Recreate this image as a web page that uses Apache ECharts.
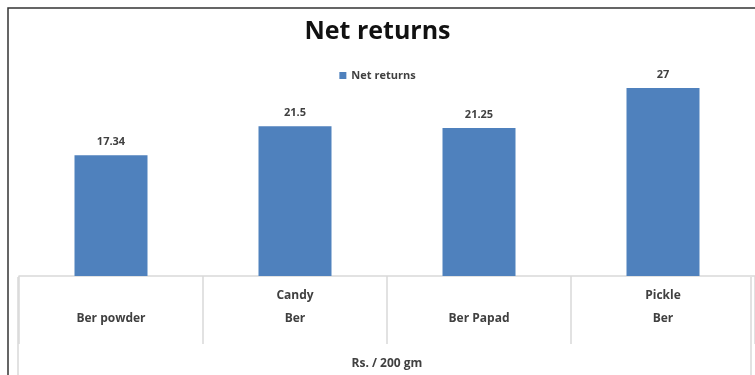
<!DOCTYPE html>
<html>
<head>
<meta charset="utf-8">
<script src="https://cdn.jsdelivr.net/npm/echarts@6/dist/echarts.min.js"></script>
<style>
  html, body { margin: 0; padding: 0; background: #fff; }
  #chart { width: 755px; height: 375px; }
</style>
</head>
<body>
<div id="chart"></div>
<script>
// two-line category labels (upper line, lower line)
const categories = ['\nBer powder', 'Candy\nBer', '\nBer Papad', 'Pickle\nBer']
const netReturns = [17.34, 21.5, 21.25, 27]
const seriesName = 'Net returns'
const axisName = 'Rs. / 200 gm'

const chart = echarts.init(document.getElementById('chart'), null, { renderer: 'canvas' })

const font = '"Open Sans", "Liberation Sans", sans-serif'

chart.setOption({
  backgroundColor: '#fff',
  animation: false,
  title: {
    text: 'Net returns',
    left: 'center',
    top: 14,
    textStyle: { fontFamily: font, fontSize: 25, fontWeight: 'bold', color: '#111' },
  },
  legend: {
    data: [seriesName],
    top: 65,
    left: 'center',
    itemWidth: 7,
    itemHeight: 7,
    itemGap: 4,
    icon: 'rect',
    textStyle: { fontFamily: font, fontSize: 11, color: '#404040', fontWeight: 'bold' },
  },
  grid: {
    left: 19,
    top: 67,
    width: 738,
    bottom: 98,
    containLabel: false,
  },
  xAxis: {
    type: 'category',
    data: categories,
    name: axisName,
    nameLocation: 'middle',
    nameGap: 82,
    nameTextStyle: { fontFamily: font, fontSize: 12, fontWeight: 'bold', color: '#404040' },
    axisLine: { lineStyle: { color: '#d9d9d9', width: 1.5 } },
    axisTick: { show: true, length: 68, lineStyle: { color: '#d9d9d9', width: 1.5 } },
    axisLabel: {
      margin: 8,
      fontFamily: font,
      fontSize: 12,
      fontWeight: 'bold',
      color: '#404040',
      lineHeight: 23,
    },
  },
  yAxis: {
    type: 'value',
    min: 0,
    max: 30,
    show: false,
  },
  series: [
    {
      name: seriesName,
      type: 'bar',
      data: netReturns,
      barWidth: 73,
      itemStyle: { color: '#4f81bd' },
      label: {
        show: true,
        position: 'top',
        distance: 8,
        fontFamily: font,
        fontSize: 11,
        fontWeight: 'bold',
        color: '#404040',
      },
    },
  ],
  graphic: [
    // outer frame of the picture
    {
      type: 'rect',
      shape: { x: 8, y: 8, width: 800, height: 400 },
      style: { fill: 'none', stroke: '#333', lineWidth: 1.5 },
      silent: true,
    },
    // side borders of the label table
    {
      type: 'line',
      shape: { x1: 18, y1: 277, x2: 18, y2: 375 },
      style: { stroke: '#d9d9d9', lineWidth: 1.5 },
      silent: true,
    },
    {
      type: 'line',
      shape: { x1: 751, y1: 277, x2: 751, y2: 375 },
      style: { stroke: '#d9d9d9', lineWidth: 1.5 },
      silent: true,
    },
  ],
})
</script>
</body>
</html>
